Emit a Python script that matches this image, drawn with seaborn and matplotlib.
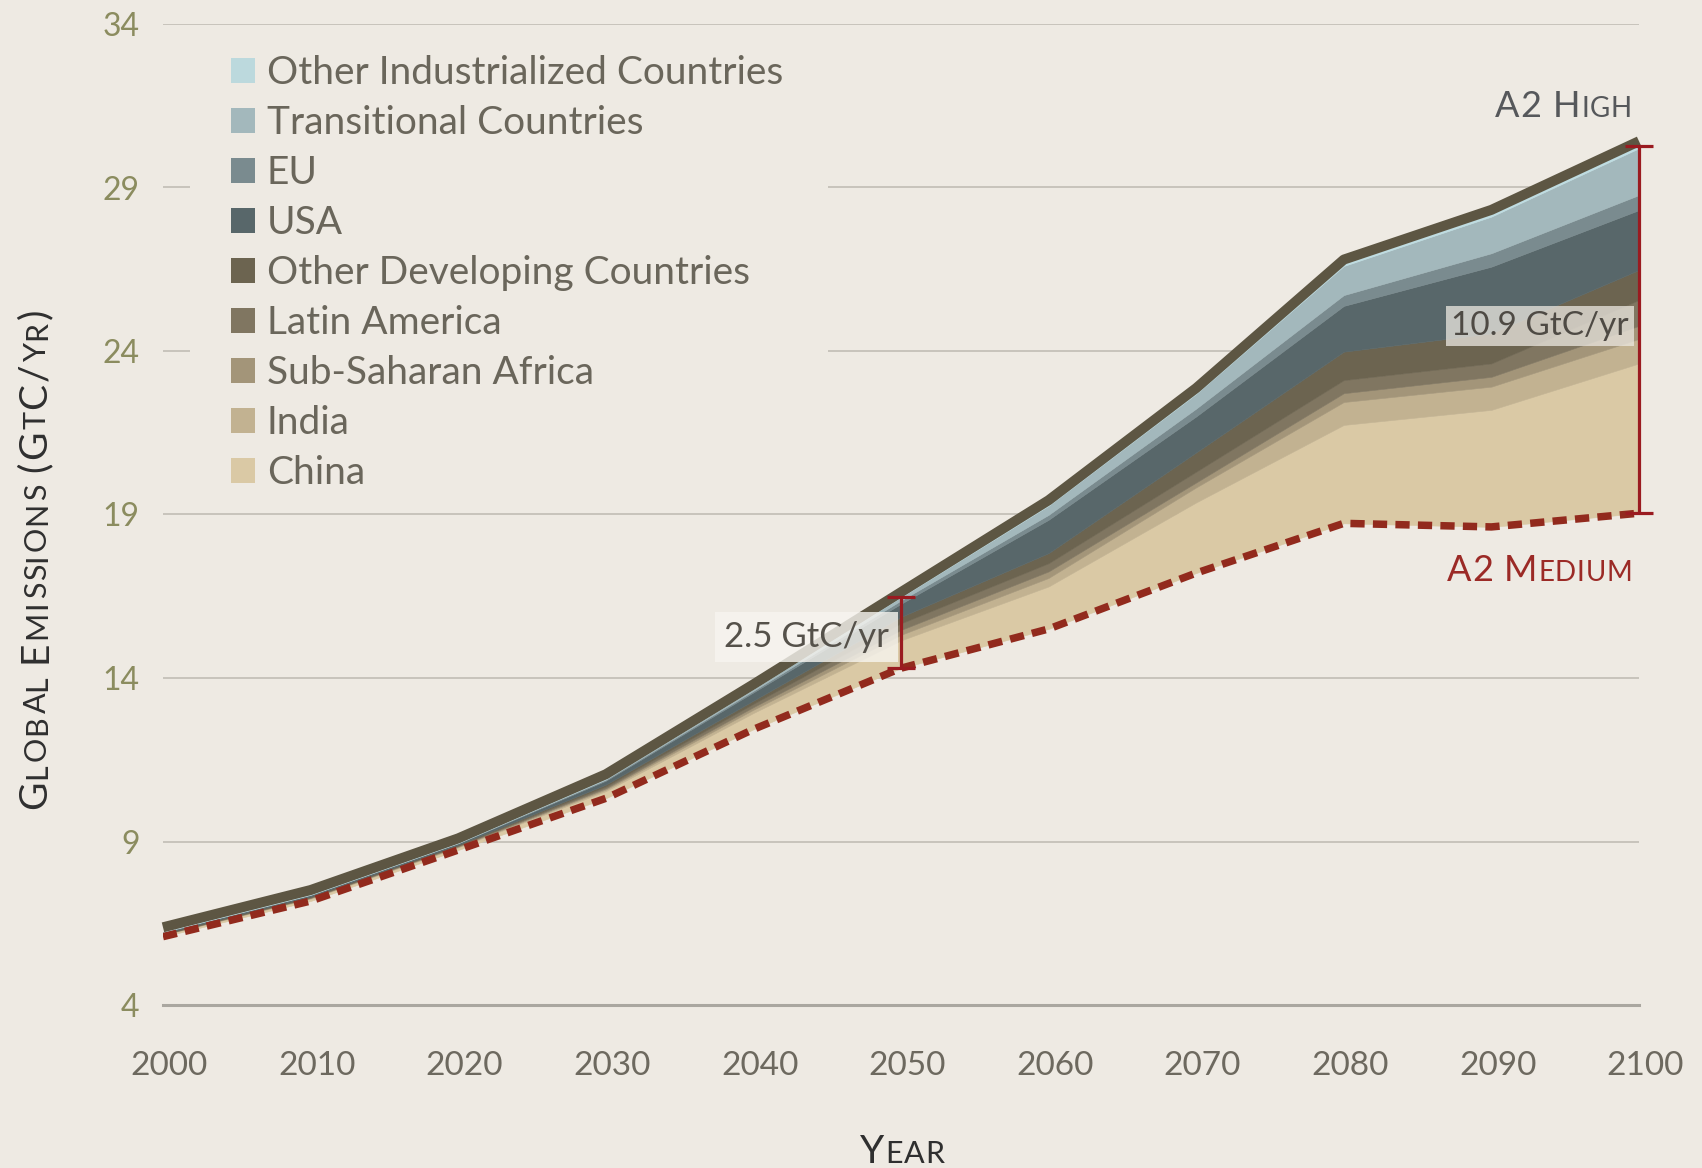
import matplotlib
matplotlib.use("Agg")
import numpy as np
import pandas as pd
import matplotlib.pyplot as plt
import matplotlib.transforms as mtransforms
from matplotlib.patches import Patch, Rectangle
import seaborn as sns

# Data ====================================================================================
years = [2000, 2010, 2020, 2030, 2040, 2050, 2060, 2070, 2080, 2090, 2100]
a2_medium = [6.09, 7.18, 8.74, 10.32, 12.43, 14.30, 15.50, 17.21, 18.73, 18.62, 19.04]

# extra emissions on top of A2 Medium, per region (GtC/yr), bottom to top
china = [0.05, 0.07, 0.08, 0.22, 0.50, 0.85, 1.30, 2.16, 3.01, 3.58, 4.58]
india = [0.01, 0.02, 0.02, 0.05, 0.10, 0.17, 0.26, 0.46, 0.70, 0.71, 0.75]
sub_saharan = [0.01, 0.01, 0.02, 0.04, 0.08, 0.15, 0.20, 0.15, 0.27, 0.30, 0.40]
latin_america = [0.01, 0.02, 0.02, 0.05, 0.10, 0.20, 0.25, 0.33, 0.40, 0.41, 0.79]
other_developing = [0.02, 0.02, 0.02, 0.06, 0.10, 0.20, 0.31, 0.59, 0.87, 0.92, 0.92]
usa = [0.03, 0.04, 0.04, 0.12, 0.25, 0.40, 1.02, 1.10, 1.40, 2.04, 1.83]
eu = [0.01, 0.01, 0.01, 0.03, 0.05, 0.10, 0.15, 0.24, 0.33, 0.41, 0.46]
transitional = [0.01, 0.01, 0.01, 0.02, 0.05, 0.10, 0.28, 0.45, 0.89, 1.12, 1.43]
other_industrialized = [0.00, 0.00, 0.00, 0.01, 0.01, 0.02, 0.03, 0.04, 0.06, 0.07, 0.08]

region_names = ["China", "India", "Sub-Saharan Africa", "Latin America",
                "Other Developing Countries", "USA", "EU", "Transitional Countries",
                "Other Industrialized Countries"]
region_values = [china, india, sub_saharan, latin_america, other_developing,
                 usa, eu, transitional, other_industrialized]
region_colors = ["#dac9a5", "#c2b291", "#a39579", "#807661", "#6c6450",
                 "#58676a", "#7a8b8f", "#a3b8bc", "#bfdde2"]

gap_years = [2050, 2100]
gap_labels = ["2.5 GtC/yr", "10.9 GtC/yr"]

# Style ===================================================================================
W, H = 1702, 1168
BG = "#eeeae3"
OUTLINE = "#5d5643"
RED_DASH = "#922a1d"
RED_BAR = "#9a1b20"
FONT = "Lato"

sns.set_theme(style="white")
plt.rcParams["font.family"] = [FONT, "DejaVu Sans"]

df = pd.DataFrame({"Year": years, "A2 Medium": a2_medium})
df["A2 High"] = df["A2 Medium"] + np.sum(region_values, axis=0)

fig = plt.figure(figsize=(W / 100, H / 100), dpi=100, facecolor=BG)
ax = fig.add_axes([163 / W, 163 / H, (1639 - 163) / W, (1005 - 24) / H])
ax.set_facecolor(BG)

# stacked areas sitting on the A2 Medium curve
ax.stackplot(years, a2_medium, *region_values, colors=["none"] + region_colors,
             edgecolor="face", linewidth=0.4, zorder=2)

sns.lineplot(data=df, x="Year", y="A2 Medium", ax=ax, color=RED_DASH, linewidth=5.4, zorder=4)
dash_line = ax.lines[-1]
dash_line.set_dashes([1.9, 1.1])
dash_line.set_dash_capstyle("butt")

sns.lineplot(data=df, x="Year", y="A2 High", ax=ax, color=OUTLINE, linewidth=7.2, zorder=5)
top_line = ax.lines[-1]
top_line.set_transform(mtransforms.offset_copy(ax.transData, fig=fig, y=3.2, units="points"))
top_line.set_solid_capstyle("butt")
top_line.set_clip_on(False)

# gap bars
idx = [years.index(y) for y in gap_years]
lows = df["A2 Medium"].values[idx]
highs = df["A2 High"].values[idx]
eb = ax.errorbar(gap_years, lows, yerr=[np.zeros(len(idx)), highs - lows], fmt="none",
                 ecolor=RED_BAR, elinewidth=2.3, capsize=10, capthick=2.3, zorder=7)
for art in eb.get_children():
    art.set_clip_on(False)

ax.text(2043.6, 15.25, gap_labels[0], ha="center", va="center", fontsize=25, color="#55514a",
        zorder=6, bbox=dict(boxstyle="square,pad=0.25", fc="#f7f5f0", ec="none", alpha=0.8))
ax.text(2099.3, 24.75, gap_labels[1], ha="right", va="center", fontsize=24, color="#4e4a44",
        zorder=6, bbox=dict(boxstyle="square,pad=0.15", fc="#ece8e1", ec="none", alpha=0.75))

# axes, grid, ticks
ax.set_xlim(2000, 2100)
ax.set_ylim(4, 34)
ax.set_xticks(range(2000, 2101, 10))
ax.set_yticks(range(4, 35, 5))
ax.set_xlabel("")
ax.set_ylabel("")
ax.set_axisbelow(True)
ax.grid(axis="y", color="#c4c0b8", linewidth=1.3)
ax.grid(axis="x", visible=False)
for side in ["top", "right", "left"]:
    ax.spines[side].set_visible(False)
ax.spines["bottom"].set_color("#aaa7a0")
ax.spines["bottom"].set_linewidth(2.2)
ax.tick_params(axis="x", length=0, pad=33, labelsize=24, labelcolor="#6d695f")
ax.tick_params(axis="y", length=0, pad=17, labelsize=23, labelcolor="#8b8c5f")
shift = mtransforms.ScaledTranslation(4.5 / 72, 0, fig.dpi_scale_trans)
for lab in ax.get_xticklabels():
    lab.set_transform(lab.get_transform() + shift)

# legend sits on a background patch that interrupts the grid lines
ax.add_patch(Rectangle((190 / W, (H - 495) / H), 638 / W, 450 / H, transform=fig.transFigure,
                       facecolor=BG, edgecolor="none", zorder=1))
handles = [Patch(facecolor=c, edgecolor="none", label=n)
           for n, c in zip(region_names[::-1], region_colors[::-1])]
handles[0].set_facecolor("#bcd9dd")
leg = ax.legend(handles=handles, loc="upper left", bbox_to_anchor=(231 / W, (H - 55) / H),
                bbox_transform=fig.transFigure, frameon=False, fontsize=28,
                handlelength=0.62, handleheight=0.62, handletextpad=0.3,
                labelspacing=0.36, borderpad=0, borderaxespad=0)
for t in leg.get_texts():
    t.set_color("#6a665b")


# small caps labels ========================================================================
renderer = fig.canvas.get_renderer()


def text_width(s, size):
    t = fig.text(0, 0, s, fontsize=size)
    w = t.get_window_extent(renderer).width
    t.remove()
    return w


def small_caps(parts, along, across, big, small, color, length, rotation=0, anchor="left"):
    chars = []
    for s, is_big in parts:
        size = big if is_big else small
        for c in s:
            if c == " ":
                w = text_width("n n", size) - text_width("nn", size)
            else:
                w = text_width(c, size)
            chars.append((c, size, w))
    natural = sum(w for _, _, w in chars)
    track = max((length - natural) / (len(chars) - 1), 0.5)
    total = natural + track * (len(chars) - 1)
    if anchor == "right":
        pos = along - total
    elif anchor == "center":
        pos = along - total / 2
    else:
        pos = along
    for c, size, w in chars:
        if c != " ":
            if rotation:
                fig.text(across / W, pos / H, c, fontsize=size, color=color, rotation=90,
                         rotation_mode="anchor", ha="left", va="baseline")
            else:
                fig.text(pos / W, across / H, c, fontsize=size, color=color,
                         ha="left", va="baseline")
        pos += w + track


small_caps([("G", True), ("LOBAL ", False), ("E", True), ("MISSIONS ", False), ("(G", True),
            ("T", False), ("C/", True), ("YR", False), (")", True)],
           along=H - 559, across=46, big=28, small=22, color="#2f2f2f", length=500,
           rotation=90, anchor="center")
small_caps([("Y", True), ("EAR", False)], along=902, across=5, big=28, small=22,
           color="#2f2f2f", length=85, anchor="center")
small_caps([("A2 H", True), ("IGH", False)], along=1632, across=H - 117, big=26, small=20,
           color="#56585b", length=137, anchor="right")
small_caps([("A2 M", True), ("EDIUM", False)], along=1632, across=H - 581, big=26, small=20,
           color="#9b2a26", length=185, anchor="right")

fig.savefig("out.png", dpi=100, facecolor=BG)
